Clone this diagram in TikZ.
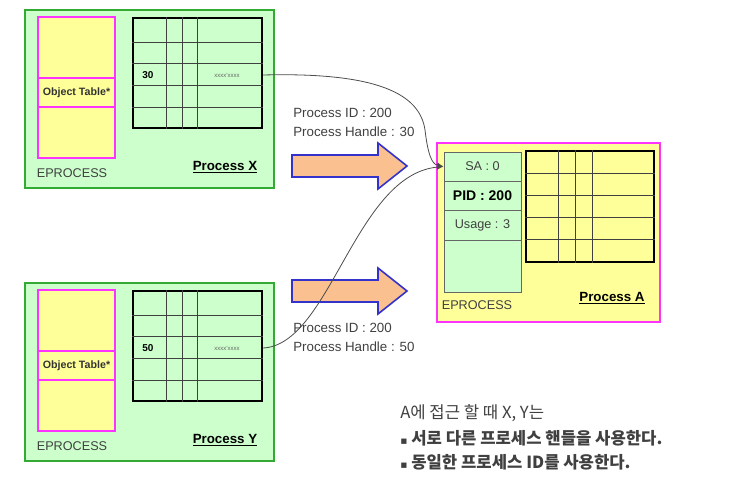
\documentclass[tikz,border=0pt]{standalone}
\usepackage{fontspec}
\setmainfont{Liberation Sans}
\newfontfamily\kofont{Noto Sans CJK KR}
\newfontfamily\symfont{DejaVu Sans}
\usepackage{xcolor}
\usetikzlibrary{arrows.meta,positioning,fit,calc}

\definecolor{procgreen}{HTML}{CCFFCC}
\definecolor{procedge}{HTML}{33AA33}
\definecolor{tblyellow}{HTML}{FFFF99}
\definecolor{objpink}{HTML}{FF33FF}
\definecolor{arrfill}{HTML}{FAC090}
\definecolor{arredge}{HTML}{3333CC}
\definecolor{txtgray}{HTML}{404040}

\begin{document}
\begin{tikzpicture}[x=0.75pt, y=-0.75pt,
  procbox/.style={draw=procedge, line width=1.2pt, fill=procgreen, inner sep=0pt},
  objcell/.style={draw=objpink, line width=1.2pt, fill=tblyellow, inner sep=0pt},
  tblbox/.style={draw=black, line width=1.5pt, inner sep=0pt},
  gridln/.style={draw=black!75, line width=0.6pt},
  eprcell/.style={draw=black!60, line width=0.6pt, fill=procgreen, inner sep=0pt},
  celltxt/.style={inner sep=0pt, text=txtgray, font=\fontsize{9.5}{11}\selectfont},
  eptxt/.style={font=\fontsize{9.5}{11}\selectfont, text=txtgray},
  pname/.style={font=\bfseries\fontsize{10}{12}\selectfont},
  infotxt/.style={align=left, anchor=west, inner sep=0pt, text=txtgray,
    font=\fontsize{10}{14.25}\selectfont},
  bigarrow/.style={draw=arredge, line width=1.2pt, fill=arrfill, line join=miter},
  link/.style={draw=black!70, line width=0.6pt, -{Latex[length=5pt,width=4pt]}},
  notetxt/.style={anchor=west, inner sep=0pt, text=black!75, font=\kofont\fontsize{12.5}{14}\selectfont}
]
\useasboundingbox (0,0) rectangle (729,496);

% Process X and Process Y
\foreach \p/\dy/\hnum/\plbl in {x/0/30/X, y/273/50/Y}{
  \node[procbox, fit={(25,10+\dy) (274,188+\dy)}] (proc\p) {};
  \node[objcell, fit={(38,17+\dy) (115,78+\dy)}] (top\p) {};
  \node[objcell, fit={(38,78+\dy) (115,107+\dy)},
    label={[celltxt, text=black!80, font=\bfseries\fontsize{8}{9}\selectfont]center:Object Table*}] (obj\p) {};
  \node[objcell, fit={(38,107+\dy) (115,158+\dy)}] (bot\p) {};
  \node[tblbox, fill=procgreen, fit={(133,18+\dy) (262,128+\dy)}] (tbl\p) {};
  \foreach \r in {42,63,85,107}
    \draw[gridln] (tbl\p.west |- 0,\r+\dy) -- (tbl\p.east |- 0,\r+\dy);
  \foreach \c in {166,182,197}
    \draw[gridln] (\c,0 |- tbl\p.north) -- (\c,0 |- tbl\p.south);
  \node[font=\bfseries\fontsize{7.5}{9}\selectfont] (num\p) at (148,75+\dy) {\hnum};
  \node[font=\fontsize{4.5}{5}\selectfont, text=black!60] (ptr\p) at (227,75+\dy) {xxxx'xxxx};
  \node[eptxt] (ep\p) at (72,173+\dy) {EPROCESS};
  \node[pname] (name\p) at (225,167+\dy) {\underline{Process \plbl}};
}

% Process A
\node[procbox, draw=objpink, fill=tblyellow, fit={(437,143) (660,322)}] (proca) {};
\node[eprcell, fit={(444,152) (521,181)}, label={[celltxt]center:SA : 0}] (sa) {};
\node[eprcell, fit={(444,181) (521,210)},
  label={[celltxt, text=black, font=\bfseries\fontsize{10.5}{12}\selectfont]center:PID : 200}] (pid) {};
\node[eprcell, fit={(444,210) (521,240)}, label={[celltxt]center:Usage : 3}] (usage) {};
\node[eprcell, fit={(444,240) (521,292)}] (rest) {};
\node[tblbox, fill=tblyellow, fit={(526,151) (654,262)}] (tbla) {};
\foreach \r in {173,195,217,239}
  \draw[gridln] (tbla.west |- 0,\r) -- (tbla.east |- 0,\r);
\foreach \c in {558,575,592}
  \draw[gridln] (\c,0 |- tbla.north) -- (\c,0 |- tbla.south);
\node[eptxt] (epa) at (477,305) {EPROCESS};
\node[pname] (namea) at (612,298) {\underline{Process A}};

% block arrows
\foreach \dy in {0,125}
  \draw[bigarrow] (292,155+\dy) -- (378,155+\dy) -- (378,143+\dy) -- (407,166+\dy)
    -- (378,189+\dy) -- (378,177+\dy) -- (292,177+\dy) -- cycle;

\node[infotxt] (infox) at (293,122) {Process ID : 200\\Process Handle : 30};
\node[infotxt] (infoy) at (293,337) {Process ID : 200\\Process Handle : 50};

% handle links
\draw[link] (tblx.east |- ptrx) .. controls (380,72) and (420,95) .. (425,130)
  .. controls (428,155) and (432,164) .. (sa.west);
\draw[link] (tbly.east |- ptry) .. controls (330,345) and (355,175) .. (sa.west);

% notes
\node[notetxt] (note) at (400,413) {A에 접근 할 때 X, Y는};
\node[notetxt, font=\kofont\bfseries\fontsize{12.5}{14}\selectfont] (bulla) at (400,438) {{\symfont\fontsize{8}{9}\selectfont ▪} 서로 다른 프로세스 핸들을 사용한다.};
\node[notetxt, font=\kofont\bfseries\fontsize{12.5}{14}\selectfont] (bullb) at (400,462) {{\symfont\fontsize{8}{9}\selectfont ▪} 동일한 프로세스 ID를 사용한다.};
\end{tikzpicture}
\end{document}
